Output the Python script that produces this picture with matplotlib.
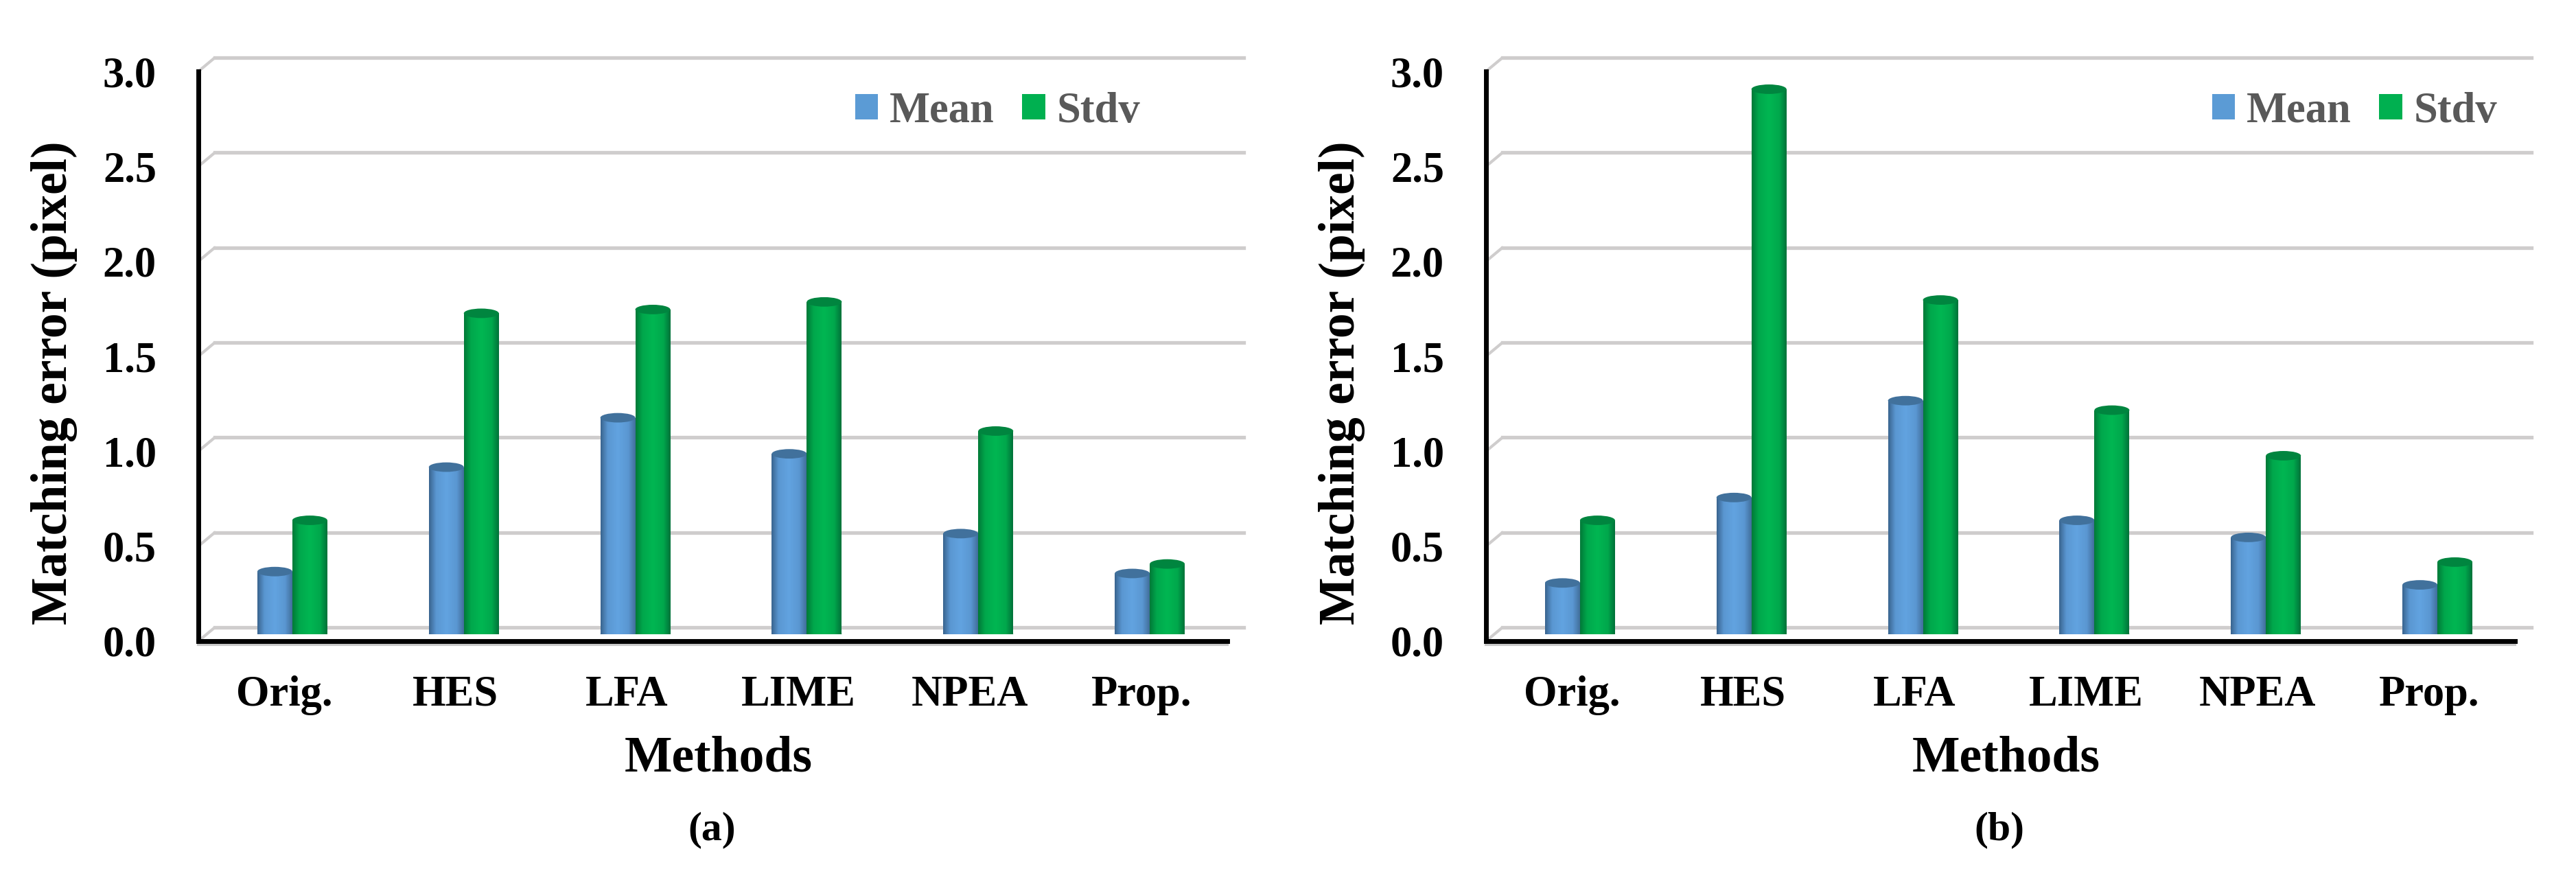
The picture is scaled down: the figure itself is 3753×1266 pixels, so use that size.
import numpy as np
import matplotlib
matplotlib.use("Agg")
import matplotlib.pyplot as plt
from matplotlib.patches import Ellipse, ConnectionPatch, Patch
from matplotlib.colors import LinearSegmentedColormap
from matplotlib.transforms import ScaledTranslation

plt.rcParams['font.family'] = ['Liberation Serif', 'DejaVu Serif']
plt.rcParams['font.weight'] = 'bold'

categories = ['Orig.', 'HES', 'LFA', 'LIME', 'NPEA', 'Prop.']
mean_a = [0.33, 0.88, 1.14, 0.95, 0.53, 0.32]
stdv_a = [0.60, 1.69, 1.71, 1.75, 1.07, 0.37]
mean_b = [0.27, 0.72, 1.23, 0.60, 0.51, 0.26]
stdv_b = [0.60, 2.87, 1.76, 1.18, 0.94, 0.38]
yticks = [0.0, 0.5, 1.0, 1.5, 2.0, 2.5, 3.0]
panel_names = ['(a)', '(b)']

W, H, DPI = 3753, 1266, 100
fig = plt.figure(figsize=(W / DPI, H / DPI), dpi=DPI, facecolor='white')


def rect(x0, x1, ytop, ybot):
    return [x0 / W, 1 - ybot / H, (x1 - x0) / W, (ybot - ytop) / H]


blue_cmap = LinearSegmentedColormap.from_list(
    'b', [(0, '#3A6590'), (0.2, '#5A97D2'), (0.5, '#62A3E0'), (0.8, '#5A97D2'), (1, '#426F9C')])
green_cmap = LinearSegmentedColormap.from_list(
    'g', [(0, '#007A38'), (0.2, '#00A84C'), (0.5, '#00B652'), (0.8, '#00A84C'), (1, '#00733A')])
BAR_W = 0.204
ELL_H = 0.05
GRID = '#CFCDCD'


def cylinder(ax, xs, vals, offset, cmap, top_color, label, z):
    grad = np.linspace(0, 1, 64).reshape(1, -1)
    bars = ax.bar(np.array(xs) + offset, vals, BAR_W, color=cmap(0.5), label=label, zorder=z)
    for bar, v in zip(bars, vals):
        x0, x1 = bar.get_x(), bar.get_x() + bar.get_width()
        cx = (x0 + x1) / 2
        im = ax.imshow(grad, cmap=cmap, extent=(x0, x1, 0, v), aspect='auto', zorder=z + 0.1)
        im.set_clip_path(bar)
        base = Ellipse((cx, 0), BAR_W, ELL_H, facecolor=cmap(0.5), edgecolor='none', zorder=z + 0.05)
        ax.add_patch(base)
        im2 = ax.imshow(grad, cmap=cmap, extent=(x0, x1, -ELL_H / 2, 0), aspect='auto', zorder=z + 0.1)
        im2.set_clip_path(base)
        ax.add_patch(Ellipse((cx, v), BAR_W, ELL_H, facecolor=top_color, edgecolor='none', zorder=z + 0.2))


def panel(dx, legend_dx, mean, stdv, name):
    x0, x1, ytop, ybot = 289 + dx, 1788 + dx, 104, 934
    xs = np.arange(len(categories))
    axes = []
    for sx, sy in ((24, 20), (12, 10), (0, 0)):
        a = fig.add_axes(rect(x0 + sx, x1 + sx, ytop - sy, ybot - sy))
        a.patch.set_alpha(0)
        a.set_xlim(-0.5, 5.5)
        a.set_ylim(0, 3)
        axes.append(a)
    back, mid, front = axes
    for a in (back, mid):
        a.axis('off')

    # back wall gridlines and the diagonal wall lines
    for t in yticks:
        back.axhline(t, color=GRID, lw=3.8, clip_on=False, zorder=1)
        fig.add_artist(ConnectionPatch((-0.5, t), (-0.5, t), coordsA=front.transData,
                                       coordsB=back.transData, color=GRID, lw=3.0, zorder=0))

    cylinder(mid, xs, mean, -BAR_W / 2, blue_cmap, '#41719C', 'Mean', 3)
    cylinder(mid, xs, stdv, BAR_W / 2, green_cmap, '#00853F', 'Stdv', 4)
    mid.set_xlim(-0.5, 5.5)
    mid.set_ylim(0, 3)

    # front axis
    for s in ('top', 'right'):
        front.spines[s].set_visible(False)
    for s in ('left', 'bottom'):
        front.spines[s].set_linewidth(5)
        front.spines[s].set_color('black')
    front.set_xticks(xs, categories, fontsize=45)
    front.set_yticks(yticks, [f'{t:.1f}' for t in yticks], fontsize=45)
    front.tick_params(axis='x', length=0, pad=36)
    front.tick_params(axis='y', length=0, pad=44)
    shadow = ScaledTranslation(0, -5 / DPI, fig.dpi_scale_trans)
    front.plot([-0.5, 5.5], [0, 0], color='#C8C8C8', lw=3, clip_on=False,
               transform=front.transData + shadow, zorder=1)

    fig.text((79 + dx) / W, 1 - 558 / H, 'Matching error (pixel)', rotation=90, fontsize=53,
             ha='center', va='center')
    fig.text((1047 + dx) / W, 1 - 1106 / H, 'Methods', fontsize=53, ha='center', va='center')
    fig.text((1037 + dx) / W, 1 - 1209 / H, name, fontsize=43, ha='center', va='center')

    handles = [Patch(facecolor='#5B9BD5', label='Mean'), Patch(facecolor='#00B050', label='Stdv')]
    front.legend(handles=handles, loc='center left', frameon=False, fontsize=45,
                 bbox_to_anchor=((1246 + legend_dx) / W, 1 - 163 / H), bbox_transform=fig.transFigure,
                 ncol=2, handlelength=0.53, handleheight=0.53, handletextpad=0.27,
                 columnspacing=0.65, borderpad=0, borderaxespad=0, labelcolor='#595959')


panel(0, 0, mean_a, stdv_a, panel_names[0])
panel(1876, 1977, mean_b, stdv_b, panel_names[1])
fig.savefig('out.png', dpi=DPI)
